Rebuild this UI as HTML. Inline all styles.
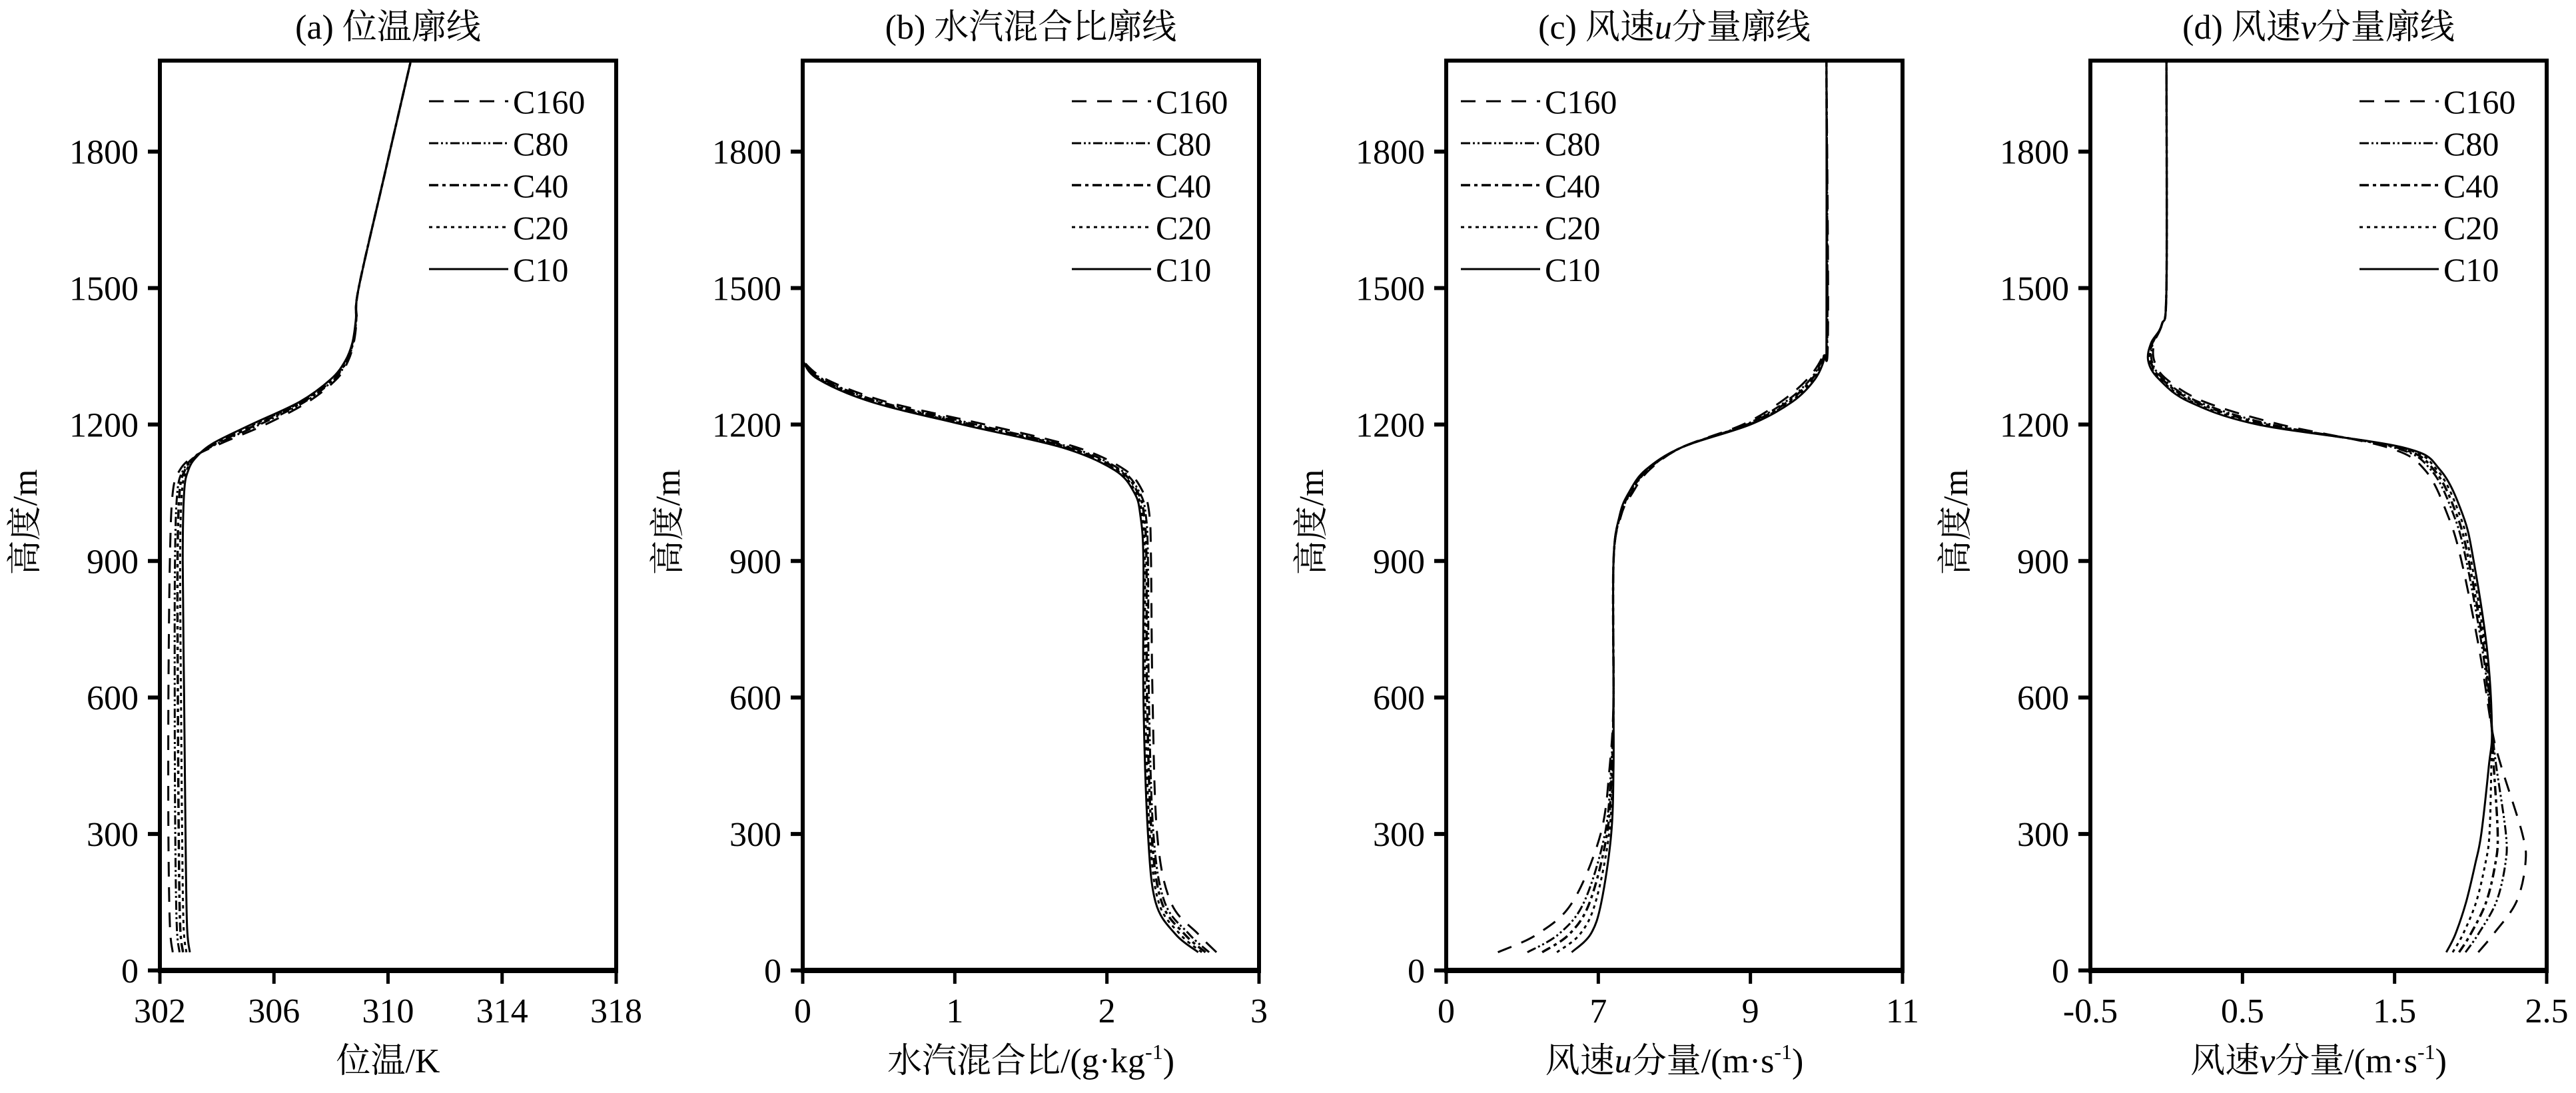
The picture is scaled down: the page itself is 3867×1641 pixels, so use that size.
<!DOCTYPE html>
<html><head><meta charset="utf-8"><style>
html,body{margin:0;padding:0;background:#fff;}
svg, svg text{font-family:"Liberation Serif","Noto Serif CJK SC",serif;fill:#000;}
</style></head><body>
<svg id="s" width="3867" height="1636" xmlns="http://www.w3.org/2000/svg" font-family="'Liberation Serif','Noto Serif CJK SC',serif"></svg>
<script>
const S=document.getElementById('s');let h='';
const TOP=91,BOT=1457,W=685;
const Y=z=>BOT-z*(BOT-TOP)/2000;
const FF=`font-family="'Liberation Serif','Noto Serif CJK SC',serif"`;
const panels=[
{x0:240,min:302,max:318,ticks:[302,306,310,314,318],labs:['302','306','310','314','318'],title:'(a) 位温廓线',xl:'位温/K',leg:'r',
 z:[40,100,300,600,900,1050,1100,1130,1160,1200,1250,1300,1340,1380,1430,1500,1750,2000],
 a:[303.05,302.95,302.9,302.85,302.8,302.85,303.0,303.3,303.9,305.2,306.9,308.0,308.5,308.75,308.87,308.97,309.88,310.8],
 b:[302.45,302.35,302.3,302.3,302.35,302.45,302.7,303.2,304.2,305.7,307.2,308.2,308.6,308.8,308.9,308.97,309.88,310.8]},
{x0:1205,min:0,max:3,ticks:[0,1,2,3],labs:['0','1','2','3'],title:'(b) 水汽混合比廓线',xl:'水汽混合比/(g·kg<tspan dy="-20" font-size="32">-1</tspan><tspan dy="20">)</tspan>',leg:'r',
 z:[40,80,150,300,600,900,1000,1050,1100,1150,1200,1250,1300,1340],
 a:[2.6,2.45,2.32,2.27,2.24,2.24,2.22,2.18,2.05,1.7,1.05,0.45,0.1,0.0],
 b:[2.72,2.6,2.42,2.33,2.3,2.29,2.28,2.24,2.12,1.8,1.2,0.55,0.15,0.0]},
{x0:2171,min:5,max:11,ticks:[5,7,9,11],labs:['0','7','9','11'],title:'(c) 风速<tspan font-style="italic">u</tspan>分量廓线',xl:'风速<tspan font-style="italic">u</tspan>分量/(m·s<tspan dy="-20" font-size="32">-1</tspan><tspan dy="20">)</tspan>',leg:'l',
 z:[40,80,150,300,450,600,900,1000,1050,1100,1150,1200,1250,1300,1350,1400,2000],
 a:[6.65,6.9,7.04,7.17,7.2,7.2,7.2,7.28,7.4,7.62,8.1,9.0,9.55,9.85,9.98,10.0,10.0],
 b:[5.68,6.2,6.66,7.03,7.15,7.2,7.2,7.3,7.45,7.67,8.1,8.9,9.4,9.75,9.95,10.02,10.0]},
{x0:3138,min:-0.5,max:2.5,ticks:[-0.5,0.5,1.5,2.5],labs:['-0.5','0.5','1.5','2.5'],title:'(d) 风速<tspan font-style="italic">v</tspan>分量廓线',xl:'风速<tspan font-style="italic">v</tspan>分量/(m·s<tspan dy="-20" font-size="32">-1</tspan><tspan dy="20">)</tspan>',leg:'r',
 z:[40,80,150,234,300,450,530,700,900,1000,1100,1150,1200,1250,1300,1340,1380,1420,1500,2000],
 a:[1.84,1.9,1.97,2.03,2.07,2.12,2.14,2.11,2.02,1.95,1.8,1.55,0.6,0.15,-0.05,-0.12,-0.1,-0.03,0.0,0.0],
 b:[2.05,2.15,2.3,2.36,2.34,2.2,2.14,2.06,1.94,1.85,1.7,1.45,0.75,0.25,0.0,-0.08,-0.08,-0.03,0.0,0.0]}
];
const styles=[
 {n:'C160',d:'22 16',w:3},
 {n:'C80',d:'14 4 3 4 3 4',w:3},
 {n:'C40',d:'14 6 5 6',w:3.5},
 {n:'C20',d:'5 6',w:3},
 {n:'C10',d:'',w:3}];
const blend=[1,0.6,0.4,0.2,0];
function path(pts){let d='M'+pts[0][0].toFixed(1)+','+pts[0][1].toFixed(1);
 for(let i=0;i<pts.length-1;i++){const p0=pts[Math.max(0,i-1)],p1=pts[i],p2=pts[i+1],p3=pts[Math.min(pts.length-1,i+2)];
 const c1=[p1[0]+(p2[0]-p0[0])/6,p1[1]+(p2[1]-p0[1])/6],c2=[p2[0]-(p3[0]-p1[0])/6,p2[1]-(p3[1]-p1[1])/6];
 d+=` C${c1[0].toFixed(1)},${c1[1].toFixed(1)} ${c2[0].toFixed(1)},${c2[1].toFixed(1)} ${p2[0].toFixed(1)},${p2[1].toFixed(1)}`;}return d;}
panels.forEach(p=>{
 const X=v=>p.x0+(v-p.min)/(p.max-p.min)*W;
 styles.forEach((s,k)=>{const t=blend[k];
  const pts=p.z.map((z,i)=>[X(p.a[i]*(1-t)+p.b[i]*t),Y(z)]);
  h+=`<path d="${path(pts)}" fill="none" stroke="#000" stroke-width="${s.w}" ${s.d?`stroke-dasharray="${s.d}"`:''}/>`;});
 h+=`<rect x="${p.x0}" y="${TOP}" width="${W}" height="${BOT-TOP}" fill="none" stroke="#000" stroke-width="6"/>`;
 h+=`<line x1="${p.x0-3}" y1="${BOT}" x2="${p.x0+W+3}" y2="${BOT}" stroke="#000" stroke-width="8"/>`;
 for(let z=0;z<=1800;z+=300){const y=Y(z);h+=`<line x1="${p.x0-18}" y1="${y}" x2="${p.x0}" y2="${y}" stroke="#000" stroke-width="6"/>`;
  h+=`<text ${FF} x="${p.x0-32}" y="${y+18}" font-size="52" text-anchor="end">${z}</text>`;}
 p.ticks.forEach((v,i)=>{const x=X(v);h+=`<line x1="${x}" y1="${BOT}" x2="${x}" y2="${BOT+20}" stroke="#000" stroke-width="5"/>`;
  h+=`<text ${FF} x="${x}" y="${BOT+78}" font-size="52" text-anchor="middle">${p.labs[i]}</text>`;});
 h+=`<text ${FF} x="${p.x0+W/2}" y="58" font-size="52" text-anchor="middle">${p.title}</text>`;
 h+=`<text ${FF} x="${p.x0+W/2}" y="1610" font-size="52" text-anchor="middle">${p.xl}</text>`;
 h+=`<text ${FF} transform="translate(${p.x0-185},784) rotate(-90)" font-size="52" text-anchor="middle">高度/m</text>`;
 const lx=p.leg==='r'?p.x0+404:p.x0+22;
 styles.forEach((s,k)=>{const y=152+k*63;
  h+=`<line x1="${lx}" y1="${y}" x2="${lx+119}" y2="${y}" stroke="#000" stroke-width="${s.w}" ${s.d?`stroke-dasharray="${s.d}"`:''}/>`;
  h+=`<text ${FF} x="${lx+126}" y="${y+18}" font-size="50">${s.n}</text>`;});
});
S.innerHTML=h;
</script>
</body></html>
